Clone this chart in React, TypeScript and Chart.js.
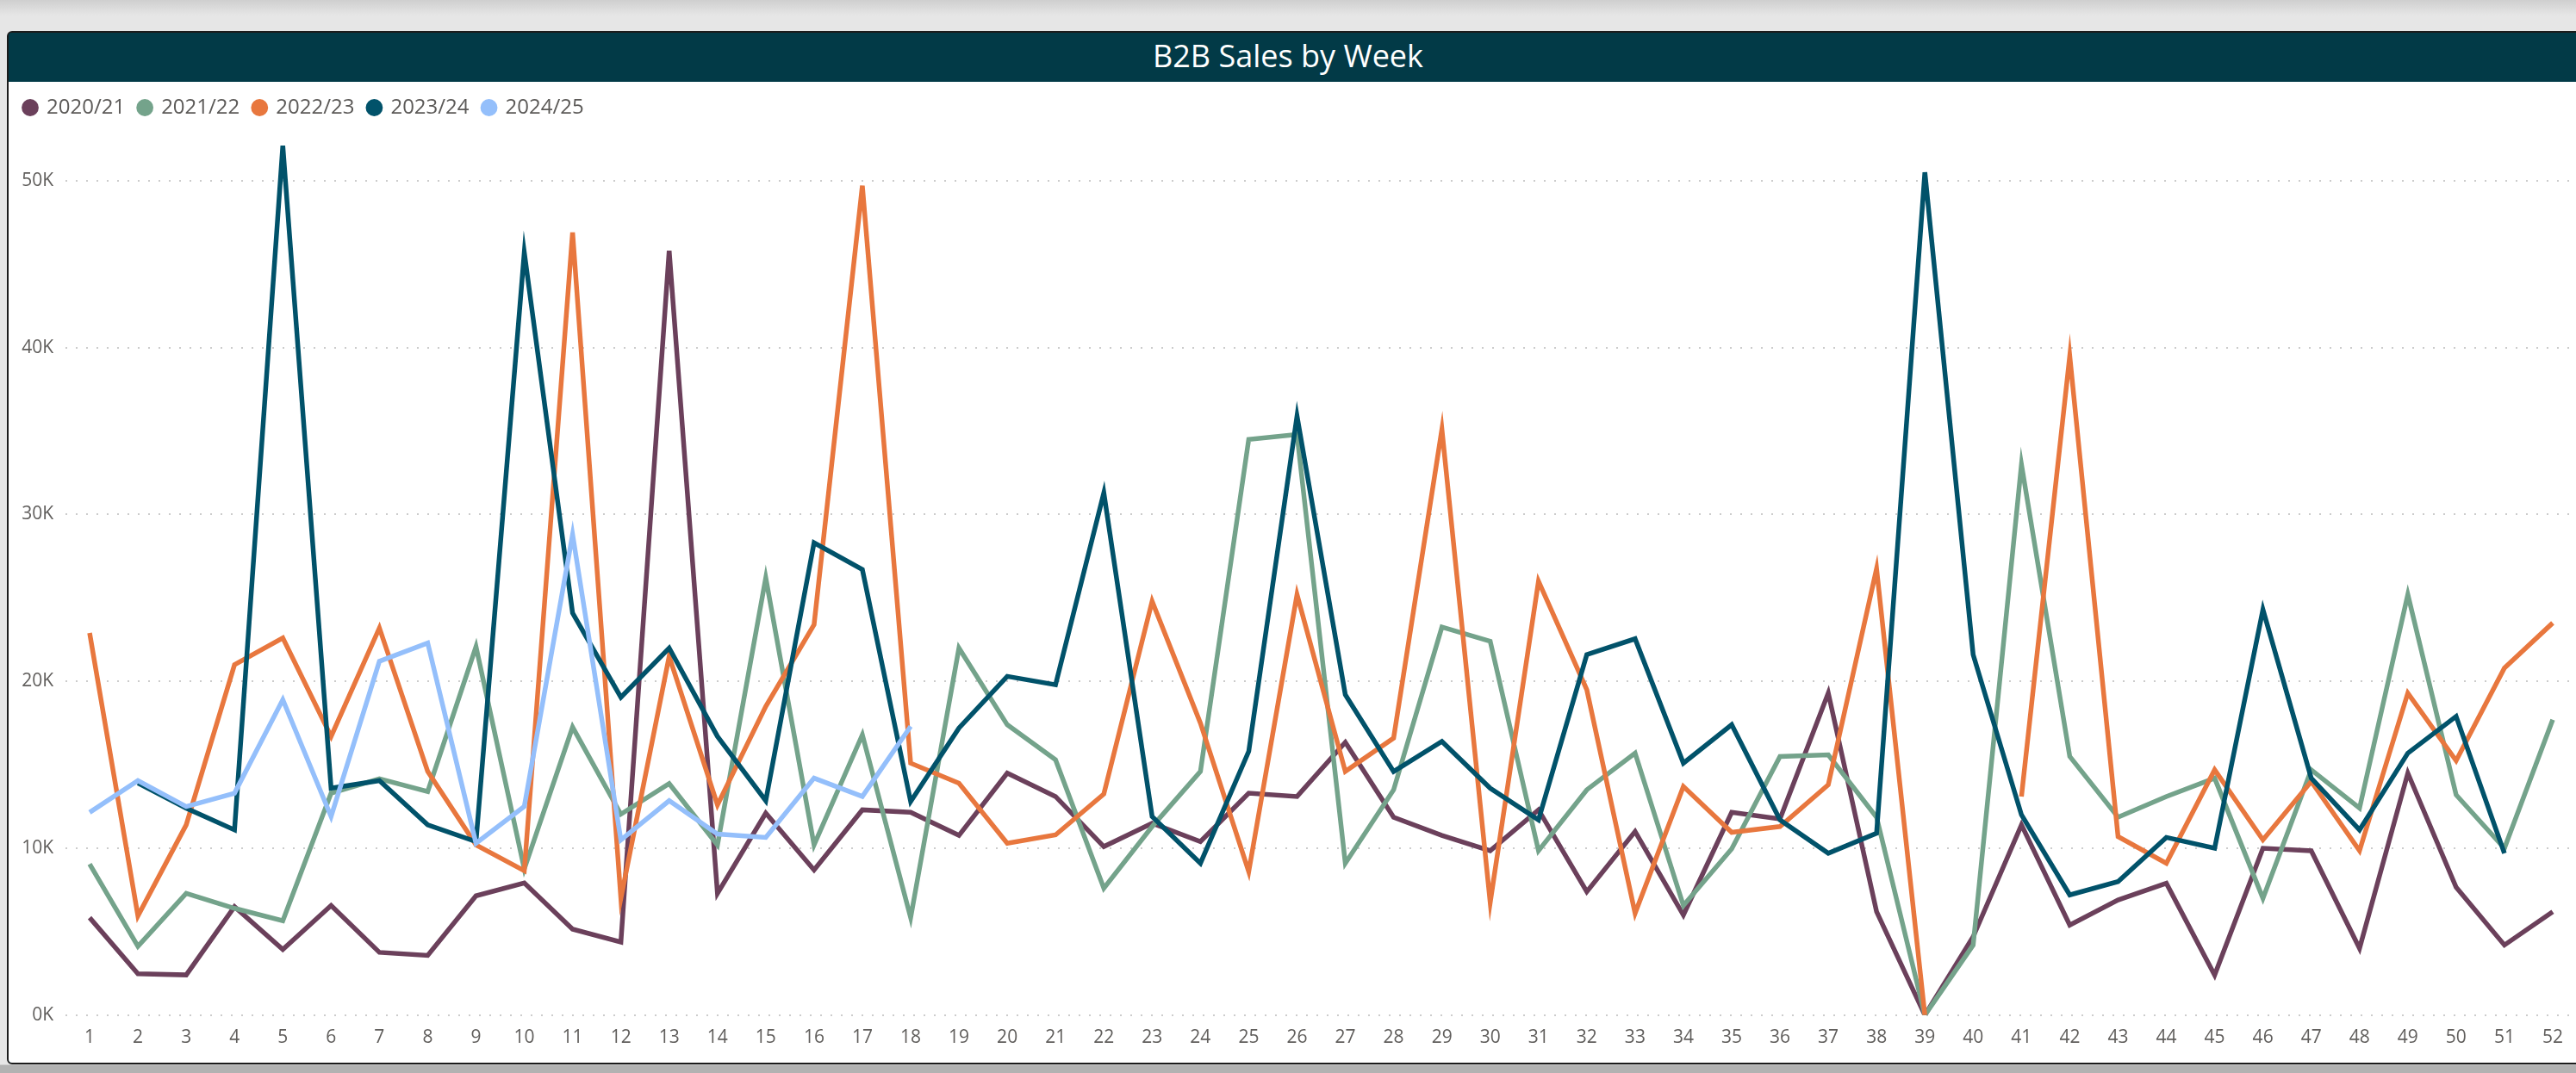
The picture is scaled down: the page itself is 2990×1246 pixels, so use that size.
import React, { useEffect, useRef } from 'react';
import { Chart, registerables } from 'chart.js';

Chart.register(...registerables);

const weeks = [
  '1', '2', '3', '4', '5', '6', '7', '8', '9', '10',
  '11', '12', '13', '14', '15', '16', '17', '18', '19', '20',
  '21', '22', '23', '24', '25', '26', '27', '28', '29', '30',
  '31', '32', '33', '34', '35', '36', '37', '38', '39', '40',
  '41', '42', '43', '44', '45', '46', '47', '48', '49', '50',
  '51', '52',
];

const yTickValues = [0, 10000, 20000, 30000, 40000, 50000];

const seriesNames = ['2020/21', '2021/22', '2022/23', '2023/24', '2024/25'];
const seriesColors = ['#6b405b', '#74a38b', '#e8773e', '#01526a', '#94bffb'];

const sales2020 = [
  5840, 2480, 2410, 6500, 3940, 6570, 3760, 3580, 7150, 7920,
  5150, 4380, 45800, 7300, 12100, 8700, 12300, 12150, 10770, 14500,
  13100, 10100, 11500, 10400, 13300, 13100, 16350, 11860, 10770, 9850,
  12300, 7400, 11000, 6000, 12150, 11750, 19300, 6200, 0, 4700,
  11400, 5400, 6900, 7900, 2400, 10000, 9850, 4000, 14500, 7660,
  4200, 6200,
];

const sales2021 = [
  9050, 4120, 7300, 6400, 5660, 13300, 14160, 13400, 22080, 8760,
  17260, 12040, 13870, 10200, 26200, 10200, 16800, 5840, 22000, 17400,
  15300, 7600, 11300, 14600, 34500, 34800, 9100, 13500, 23250, 22400,
  9850, 13500, 15700, 6570, 9960, 15500, 15600, 11860, 0, 4200,
  33000, 15500, 11860, 13100, 14200, 7000, 14700, 12400, 25200, 13200,
  10000, 17700,
];

const sales2022 = [
  22900, 5950, 11400, 21000, 22600, 16700, 23200, 14600, 10200, 8650,
  46900, 7000, 21500, 12600, 18500, 23400, 49700, 15100, 13900, 10300,
  10800, 13250, 24800, 17500, 8600, 25200, 14600, 16600, 35100, 6750,
  26000, 19500, 6100, 13700, 10950, 11300, 13800, 26750, 0, null,
  13100, 39500, 10700, 9100, 14700, 10500, 14000, 9850, 19300, 15250,
  20800, 23500,
];

const sales2023 = [
  null, 13900, 12400, 11100, 52100, 13600, 14050, 11400, 10400, 45700,
  24100, 19050, 22000, 16700, 12850, 28300, 26700, 12800, 17200, 20300,
  19800, 31300, 11900, 9100, 15800, 35900, 19200, 14600, 16400, 13600,
  11700, 21600, 22550, 15100, 17400, 11700, 9700, 10900, 50500, 21600,
  12000, 7200, 8000, 10650, 10000, 24300, 14200, 11100, 15700, 17900,
  9700, null,
];

const sales2024 = [
  12150, 14050, 12500, 13300, 18900, 11900, 21200, 22300, 10300, 12500,
  28800, 10500, 12850, 10850, 10650, 14200, 13100, 17300,
];

const allSeries = [sales2020, sales2021, sales2022, sales2023, sales2024];

const FONT = "'Open Sans', 'Segoe UI', sans-serif";

export default function App() {
  const canvasRef = useRef<HTMLCanvasElement | null>(null);

  useEffect(() => {
    if (!canvasRef.current) return;
    const chart = new Chart(canvasRef.current, {
      type: 'line',
      data: {
        labels: weeks,
        datasets: seriesNames.map((name, i) => ({
          label: name,
          data: allSeries[i],
          borderColor: seriesColors[i],
          backgroundColor: seriesColors[i],
          borderWidth: 5.5,
          pointRadius: 0,
          pointHoverRadius: 0,
          tension: 0,
          spanGaps: false,
          order: seriesNames.length - i,
        })),
      },
      options: {
        animation: false,
        responsive: false,
        devicePixelRatio: 1,
        layout: { padding: { left: 2, top: 2, right: 5, bottom: 10 } },
        plugins: {
          tooltip: { enabled: false },
          legend: {
            display: true,
            position: 'top',
            align: 'start',
            maxHeight: 45,
            labels: {
              usePointStyle: true,
              pointStyle: 'circle',
              boxWidth: 14,
              boxHeight: 14,
              padding: 16,
              color: '#5c5a58',
              font: { family: FONT, size: 24 },
              sort: (a: any, b: any) => a.datasetIndex - b.datasetIndex,
              generateLabels: (c: any) =>
                Chart.defaults.plugins.legend.labels
                  .generateLabels(c)
                  .map((l: any) => ({ ...l, lineWidth: 0 })),
            },
          },
        },
        scales: {
          x: {
            type: 'category',
            offset: true,
            grid: { display: false },
            border: { display: false },
            ticks: {
              autoSkip: false,
              maxRotation: 0,
              padding: 6,
              color: '#605e5c',
              font: { family: FONT, size: 21 },
            },
          },
          y: {
            min: 0,
            max: 53500,
            border: { display: false, dash: [2, 10] },
            grid: {
              color: '#cccccc',
              lineWidth: 2,
              drawTicks: false,
            },
            afterFit: (scale: any) => {
              scale.width = 64;
            },
            afterBuildTicks: (scale: any) => {
              scale.ticks = yTickValues.map((v) => ({ value: v }));
            },
            ticks: {
              padding: 14,
              color: '#605e5c',
              font: { family: FONT, size: 21 },
              callback: (v: any) => `${Number(v) / 1000}K`,
            },
          },
        },
      },
    });
    return () => chart.destroy();
  }, []);

  return (
    <div
      style={{
        position: 'fixed',
        left: 0,
        top: 0,
        width: 2990,
        height: 1246,
        overflow: 'hidden',
        background: 'linear-gradient(#cfcfcf 0px, #e6e6e6 18px, #e6e6e6 1236px, #b2b2b2 1237px)',
      }}
    >
      <div
        style={{
          position: 'absolute',
          left: 8,
          top: 36,
          width: 3000,
          height: 1200,
          boxSizing: 'border-box',
          border: '2px solid #1c1c1c',
          borderRadius: 6,
          background: '#023a47',
          overflow: 'hidden',
        }}
      >
        <div
          style={{
            height: 57,
            width: 2970,
            background: '#023a47',
            color: '#ffffff',
            fontFamily: FONT,
            fontSize: 36,
            lineHeight: '53px',
            textAlign: 'center',
          }}
        >
          B2B Sales by Week
        </div>
        <div style={{ background: '#ffffff', width: 2996, height: 1141 }}>
          <canvas ref={canvasRef} width={2986} height={1139} style={{ display: 'block' }} />
        </div>
      </div>
    </div>
  );
}
